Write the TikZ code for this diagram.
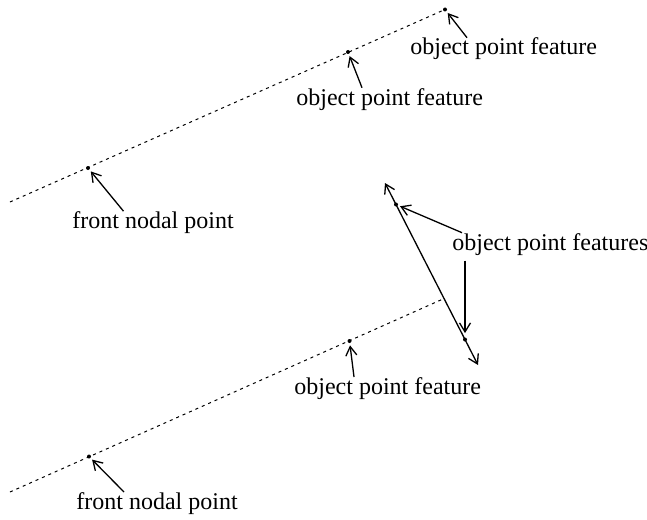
\documentclass[tikz,border=0pt]{standalone}
\usepackage{fontspec}
\setmainfont{Liberation Serif}
\usetikzlibrary{arrows.meta}

\begin{document}
\begin{tikzpicture}[x=0.5pt,y=-0.5pt,
  ray/.style={line width=0.5pt,dash pattern=on 1.5pt off 2pt},
  pointer/.style={line width=0.65pt,-{Straight Barb[length=4.5pt,width=5.5pt]},shorten >=1pt},
  rod/.style={line width=0.65pt,{Straight Barb[length=4.5pt,width=5.5pt]}-{Straight Barb[length=4.5pt,width=5.5pt]}},
  lbl/.style={font=\fontsize{12}{14}\selectfont,inner sep=0pt,anchor=base west},
  featdot/.style={circle,fill,inner sep=0pt,minimum size=2pt}]
  \useasboundingbox (0,0) rectangle (647,519);

  % Upper ray through the front nodal point
  \coordinate (rayAs) at (10,202);
  \coordinate (rayAe) at (445,9.5);
  \draw[ray] (rayAs) -- (rayAe);
  \node[featdot] (dotObjA) at (445,9.5) {};
  \node[featdot] (dotObjB) at (348,52) {};
  \node[featdot] (dotNodalA) at (88,168) {};

  \node[lbl] (lblObjA) at (410,55) {object point feature};
  \node[lbl] (lblObjB) at (296,105) {object point feature};
  \node[lbl] (lblNodalA) at (72,228.5) {front nodal point};
  \draw[pointer] ([xshift=28.5pt]lblObjA.north west) -- (dotObjA);
  \draw[pointer] ([xshift=33pt]lblObjB.north west) -- (dotObjB);
  \draw[pointer] ([xshift=25.75pt]lblNodalA.north west) -- (dotNodalA);

  % Object with its two end features
  \coordinate (rodTop) at (385,183);
  \coordinate (rodBot) at (478,365);
  \draw[rod] (rodTop) -- (rodBot);
  \node[featdot] (dotFeatA) at (396,204.5) {};
  \node[featdot] (dotFeatB) at (465,339.5) {};

  \node[lbl] (lblFeats) at (452,250) {object point features};
  \draw[pointer] ([xshift=5pt]lblFeats.north west) -- (dotFeatA);
  \draw[pointer,shorten >=2pt] ([xshift=6.5pt,yshift=-2.5pt]lblFeats.south west) -- (dotFeatB);

  % Lower ray
  \coordinate (rayBs) at (10,492);
  \coordinate (rayBe) at (443,299);
  \draw[ray] (rayBs) -- (rayBe);
  \node[featdot] (dotObjC) at (349.5,341) {};
  \node[featdot] (dotNodalB) at (89,456.5) {};

  \node[lbl] (lblObjC) at (294,394.3) {object point feature};
  \node[lbl] (lblNodalB) at (76,509.3) {front nodal point};
  \draw[pointer] ([xshift=30pt]lblObjC.north west) -- (dotObjC);
  \draw[pointer] ([xshift=24pt]lblNodalB.north west) -- (dotNodalB);
\end{tikzpicture}
\end{document}
